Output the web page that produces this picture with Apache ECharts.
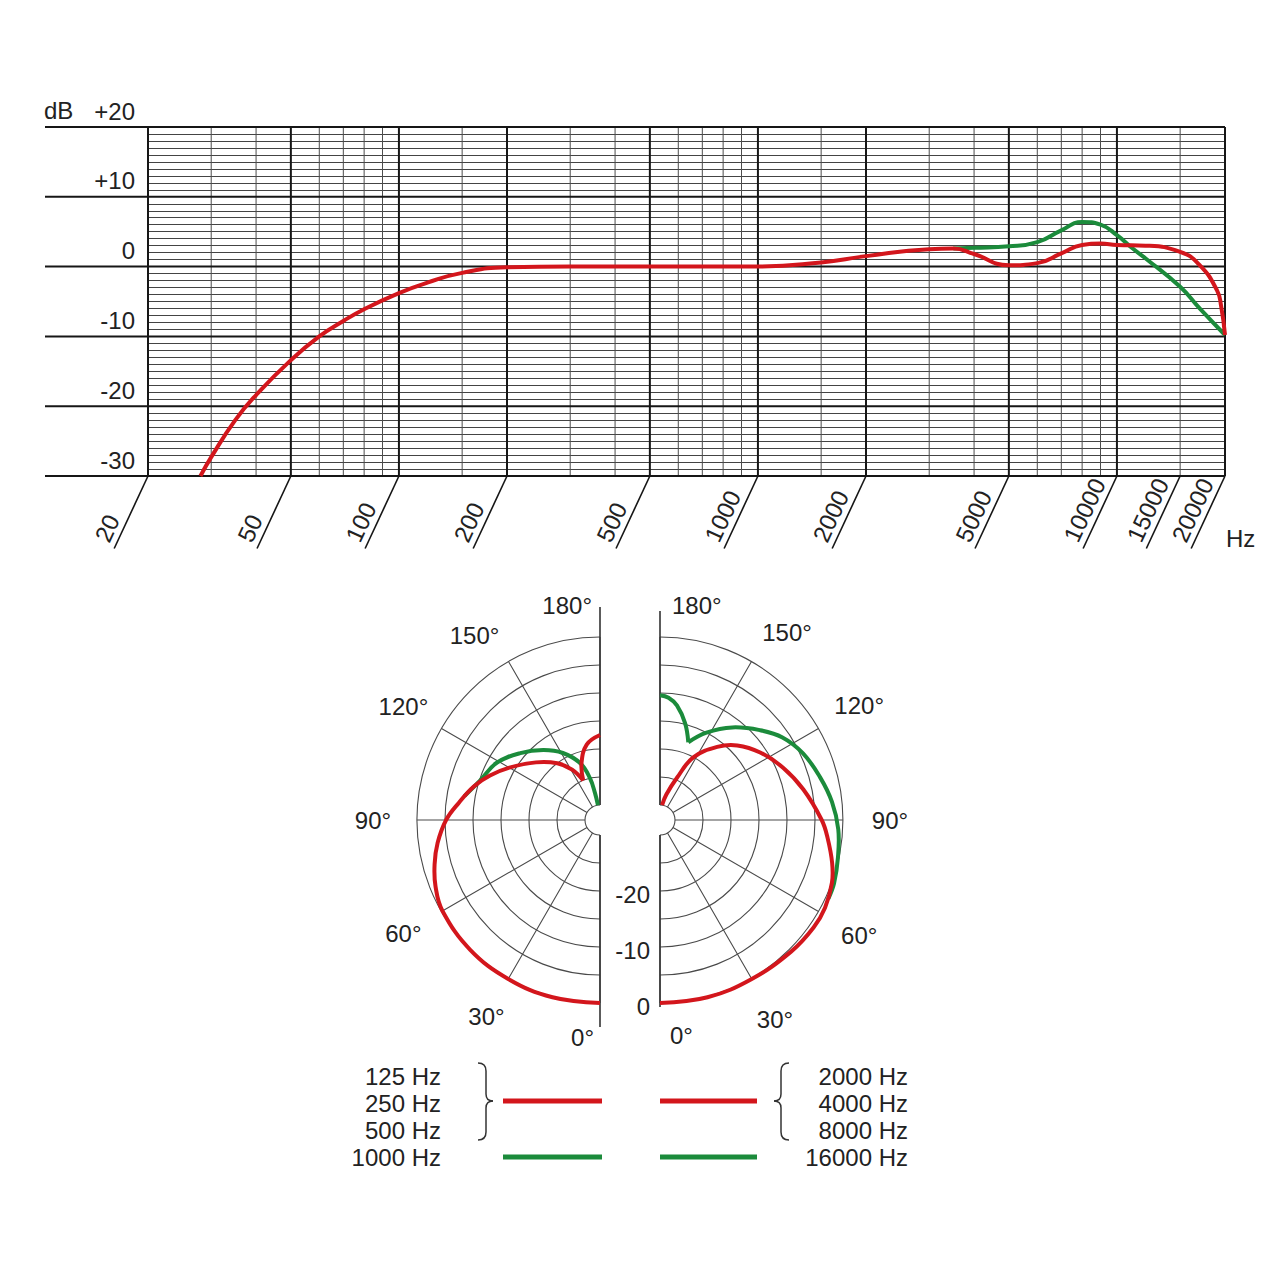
<!DOCTYPE html>
<html>
<head>
<meta charset="utf-8">
<title>Frequency response and polar pattern</title>
<script src="https://cdn.jsdelivr.net/npm/echarts/dist/echarts.min.js"></script>
<style>
  html, body { margin: 0; padding: 0; background: #ffffff; }
  #chart { width: 1280px; height: 1280px; }
</style>
</head>
<body>
<div id="chart"></div>
<script>
// ---------------- data ----------------
const freqTickHz = [20, 50, 100, 200, 500, 1000, 2000, 5000, 10000, 15000, 20000];
const freqTickLabels = ['20', '50', '100', '200', '500', '1000', '2000', '5000', '10000', '15000', '20000'];
const majorGridHz = [20, 50, 100, 200, 500, 1000, 2000, 5000, 10000, 20000];
const minorGridHz = [30, 40, 60, 70, 80, 90, 150, 300, 400, 600, 700, 800, 900, 1500, 3000, 4000, 6000, 7000, 8000, 9000, 15000];
const dbTicks = [-30, -20, -10, 0, 10, 20];
const dbTickLabels = ['-30', '-20', '-10', '0', '+10', '+20'];

const respRedHz = [28, 30, 35, 40, 50, 60, 70, 80, 100, 120, 150, 200, 300, 500, 1000, 1500, 2000, 3000, 3500, 4000, 5000, 6000, 7000, 8000, 9000, 10000, 12000, 15000, 17000, 19000, 19500, 20000];
const respRedDb = [-30, -27.3, -22, -18.4, -13.4, -10, -7.8, -6.1, -3.8, -2.3, -0.9, -0.1, 0, 0, 0, 0.6, 1.5, 2.5, 2.6, 1.8, 0.2, 0.5, 1.9, 3.1, 3.3, 3.1, 3.0, 2.1, 0.2, -3.4, -5.6, -9.8];
const respGreenHz = [3500, 4000, 5000, 6000, 7000, 8000, 9000, 10000, 11000, 12000, 15000, 17000, 20000];
const respGreenDb = [2.6, 2.7, 2.9, 3.5, 5.2, 6.4, 6.0, 4.5, 2.7, 1.2, -2.9, -6.0, -9.8];

const polarAngleTicks = [0, 30, 60, 90, 120, 150, 180];
const polarAngleLabels = ['0°', '30°', '60°', '90°', '120°', '150°', '180°'];
const polarDbLabelValues = [0, -10, -20];
const polarDbLabels = ['0', '-10', '-20'];

// left half: 125 / 250 / 500 Hz (red), 1000 Hz (green)
const lowRedMainDeg = [0, 15, 30, 45, 60, 68, 75, 82, 90, 97, 105, 112, 120, 132, 143, 151, 157];
const lowRedMainDb  = [0, 0.1, 0.1, 0.1, -0.2, -1.0, -2.1, -3.4, -5.2, -7.3, -9.4, -11.5, -14, -17.3, -20, -22.4, -25];
const lowRedLobeDeg = [157, 162, 170, 180];
const lowRedLobeDb  = [-25, -22, -19, -17.5];
const lowGreenDeg = [100, 108, 119, 130, 141, 151, 161, 166.5, 169.5, 172];
const lowGreenDb  = [-8.1, -10.1, -11.6, -14.1, -16.6, -19, -22, -25, -27.8, -30];

// right half: 2000 / 4000 / 8000 Hz (red), 16000 Hz (green)
const highRedDeg = [0, 15, 30, 45, 55, 62, 70, 76, 84, 90, 102, 113, 124, 134, 142, 152, 158, 166, 172];
const highRedDb  = [0, 0.1, 0.1, 0.5, 0.8, 0.7, 0, -1.0, -2.6, -3.8, -6.5, -8.8, -11.1, -13.5, -16.1, -20, -24.5, -28, -30];
const highGreenMainDeg = [65, 70, 78, 87, 96, 105, 115, 124, 132, 142, 152, 160];
const highGreenMainDb  = [0.5, 0.4, -0.2, -0.8, -1.8, -3.1, -4.5, -6.3, -8.7, -11.7, -15, -17.9];
const highGreenLobeDeg = [160, 165.5, 171.6, 176, 180];
const highGreenLobeDb  = [-17.9, -14.8, -12, -10.8, -10.4];

const legendLowLabels = ['125 Hz', '250 Hz', '500 Hz', '1000 Hz'];
const legendHighLabels = ['2000 Hz', '4000 Hz', '8000 Hz', '16000 Hz'];

// ---------------- constants / styles ----------------
const X_MIN = 20, X_MAX = 20000, Y_MIN = -30, Y_MAX = 20;
const R_MIN = -30, R_MAX = 0;
const RED = '#d3161c', GREEN = '#1b8b3b', INK = '#161616', GRID_MINOR = '#444444', POLAR_GRID = '#4a4a4a', TEXT = '#222222';
const FONT = '"Liberation Sans", Arial, Helvetica, sans-serif';
const FS = 24;
// extra placement of the 150° labels (outward px, downward px)
const ANGLE_LABEL_NUDGE = { 150: [12, 12] };

function pairs(xs, ys) { return xs.map((x, i) => [x, ys[i]]); }
function polarPairs(degs, dbs) { return degs.map((d, i) => [dbs[i], d]); }

function txt(text, x, y, align, vAlign, extra) {
  return Object.assign({
    type: 'text', x: x, y: y,
    style: { text: text, fill: TEXT, fontSize: FS, fontFamily: FONT,
             align: align, verticalAlign: vAlign, textAlign: align, textVerticalAlign: vAlign }
  }, extra || {});
}

function makeVLine(color, width) {
  return function (params, api) {
    const f = api.value(0);
    const a = api.coord([f, Y_MIN]);
    const b = api.coord([f, Y_MAX]);
    return { type: 'line', shape: { x1: a[0], y1: a[1], x2: b[0], y2: b[1] },
             style: { stroke: color, lineWidth: width } };
  };
}

const H_EXT_LEFT = 103, Y_LABEL_GAP = 13, Y_LABEL_RAISE = 16;
function renderHMajor(params, api) {
  const v = api.value(1);
  const a = api.coord([X_MIN, v]);
  const b = api.coord([X_MAX, v]);
  return { type: 'group', children: [
    { type: 'line', shape: { x1: a[0] - H_EXT_LEFT, y1: a[1], x2: b[0], y2: b[1] },
      style: { stroke: INK, lineWidth: 2 } },
    txt(dbTickLabels[params.dataIndex], a[0] - Y_LABEL_GAP, a[1] - Y_LABEL_RAISE, 'right', 'middle')
  ]};
}

const TICK_ANGLE = 65 * Math.PI / 180, TICK_LEN = 80, LABEL_ALONG = 78, LABEL_OFF = 3;
function renderXTick(params, api) {
  const f = api.value(0);
  const p = api.coord([f, Y_MIN]);
  const dx = -Math.cos(TICK_ANGLE), dy = Math.sin(TICK_ANGLE);
  const ux = -Math.sin(TICK_ANGLE), uy = -Math.cos(TICK_ANGLE);
  return { type: 'group', children: [
    { type: 'line', shape: { x1: p[0], y1: p[1], x2: p[0] + dx * TICK_LEN, y2: p[1] + dy * TICK_LEN },
      style: { stroke: INK, lineWidth: 1.6 } },
    txt(freqTickLabels[params.dataIndex],
        p[0] + dx * LABEL_ALONG + ux * LABEL_OFF, p[1] + dy * LABEL_ALONG + uy * LABEL_OFF,
        'left', 'bottom', { rotation: TICK_ANGLE })
  ]};
}

function makePolarDecor(side, gap, top, bottom) {
  return function (params, api) {
    const a = api.value(1);
    const inner = api.coord([R_MIN, a]);
    const outer = api.coord([R_MAX, a]);
    let dx = outer[0] - inner[0], dy = outer[1] - inner[1];
    const len = Math.hypot(dx, dy) || 1; dx /= len; dy /= len;
    const label = polarAngleLabels[params.dataIndex];
    const children = [];
    if (a === 0 || a === 180) {
      const cfg = a === 180 ? top : bottom;
      children.push({ type: 'line',
        shape: { x1: inner[0], y1: inner[1], x2: outer[0] + dx * cfg.ext, y2: outer[1] + dy * cfg.ext },
        style: { stroke: '#333333', lineWidth: 1.6 } });
      children.push(txt(label, outer[0] + side * cfg.gapX, outer[1] + dy * cfg.gapY,
                        side < 0 ? 'right' : 'left', 'middle'));
    } else {
      const n = ANGLE_LABEL_NUDGE[a] || [0, 0];
      children.push(txt(label, outer[0] + dx * gap + side * n[0], outer[1] + dy * gap + n[1], 'center', 'middle'));
    }
    return { type: 'group', children: children };
  };
}

function renderRadiusLabel(params, api) {
  const v = api.value(0);
  const p = api.coord([v, 0]);
  return txt(polarDbLabels[params.dataIndex], p[0] - 10, p[1] + 3, 'right', 'middle');
}

// a polar response curve: drawn once through all its points, via the polar scales
function renderPolarCurve(color) {
  return function (params, api) {
    if (params.dataIndexInside !== 0) return null;
    const pts = [];
    for (let i = 0; i < params.dataInsideLength; i++) {
      pts.push(api.coord([api.value(0, i), api.value(1, i)]));
    }
    return { type: 'polyline', shape: { points: pts, smooth: 0.4 },
             style: { stroke: color, lineWidth: 4, fill: null, lineJoin: 'round', lineCap: 'butt' } };
  };
}
function polarCurve(idx, degs, dbs, color, z) {
  return { type: 'custom', coordinateSystem: 'polar', polarIndex: idx, silent: true, z: z, clip: false,
           data: polarPairs(degs, dbs), renderItem: renderPolarCurve(color) };
}

function angleAxisCfg(idx, start, end, clockwise) {
  return { polarIndex: idx, type: 'value', min: 0, max: 180, interval: 30,
    startAngle: start, endAngle: end, clockwise: clockwise,
    axisLine: { show: false }, axisTick: { show: false }, axisLabel: { show: false },
    splitLine: { show: true, lineStyle: { color: POLAR_GRID, width: 1.1 } } };
}
function radiusAxisCfg(idx) {
  return { polarIndex: idx, type: 'value', min: R_MIN, max: R_MAX, interval: 5,
    axisLine: { show: false }, axisTick: { show: false }, axisLabel: { show: false },
    splitLine: { show: true, lineStyle: { color: POLAR_GRID, width: 1.1 } } };
}

// ---------------- legend graphics ----------------
function brace(cx, tipX, endX, y0, ymid, y1) {
  const st = { stroke: '#333333', lineWidth: 1.5, fill: null };
  return [
    { type: 'bezierCurve', shape: { x1: endX, y1: y0, cpx1: cx, cpy1: y0, x2: cx, y2: y0 + 8 }, style: st },
    { type: 'line', shape: { x1: cx, y1: y0 + 8, x2: cx, y2: ymid - 7 }, style: st },
    { type: 'bezierCurve', shape: { x1: cx, y1: ymid - 7, cpx1: cx, cpy1: ymid, x2: tipX, y2: ymid }, style: st },
    { type: 'bezierCurve', shape: { x1: tipX, y1: ymid, cpx1: cx, cpy1: ymid, x2: cx, y2: ymid + 7 }, style: st },
    { type: 'line', shape: { x1: cx, y1: ymid + 7, x2: cx, y2: y1 - 8 }, style: st },
    { type: 'bezierCurve', shape: { x1: cx, y1: y1 - 8, cpx1: cx, cpy1: y1, x2: endX, y2: y1 }, style: st }
  ];
}

const LEG_ROW0 = 1076, LEG_STEP = 27;
const graphics = [];
graphics.push(txt('dB', 44, 110, 'left', 'middle'));
graphics.push(txt('Hz', 1226, 538, 'left', 'middle'));
legendLowLabels.forEach((t, i) => graphics.push(txt(t, 441, LEG_ROW0 + i * LEG_STEP, 'right', 'middle')));
legendHighLabels.forEach((t, i) => graphics.push(txt(t, 908, LEG_ROW0 + i * LEG_STEP, 'right', 'middle')));
const redRowY = LEG_ROW0 + LEG_STEP - 2, greenRowY = LEG_ROW0 + 3 * LEG_STEP;
[[503, 602], [660, 757]].forEach(function (seg) {
  graphics.push({ type: 'line', shape: { x1: seg[0], y1: redRowY, x2: seg[1], y2: redRowY }, style: { stroke: RED, lineWidth: 5 } });
  graphics.push({ type: 'line', shape: { x1: seg[0], y1: greenRowY, x2: seg[1], y2: greenRowY }, style: { stroke: GREEN, lineWidth: 5 } });
});
brace(486, 493, 478, 1063, redRowY, 1140).forEach(g => graphics.push(g));
brace(781, 774, 789, 1063, redRowY, 1140).forEach(g => graphics.push(g));

// ---------------- chart ----------------
const chart = echarts.init(document.getElementById('chart'), null, { renderer: 'svg', width: 1280, height: 1280 });
const option = {
  animation: false,
  backgroundColor: '#ffffff',
  grid: { left: 148, right: 55, top: 127, bottom: 804, containLabel: false, outerBoundsMode: 'none' },
  xAxis: { type: 'log', logBase: 10, min: X_MIN, max: X_MAX,
    axisLine: { show: false }, axisTick: { show: false }, axisLabel: { show: false }, splitLine: { show: false } },
  yAxis: { type: 'value', min: Y_MIN, max: Y_MAX, interval: 10,
    axisLine: { show: false }, axisTick: { show: false }, axisLabel: { show: false }, splitLine: { show: false },
    minorTick: { show: false, splitNumber: 10 },
    minorSplitLine: { show: true, lineStyle: { color: GRID_MINOR, width: 1 } } },
  polar: [
    { center: [600, 820], radius: [15, 183] },
    { center: [660, 820], radius: [15, 183] }
  ],
  angleAxis: [angleAxisCfg(0, 270, 90, true), angleAxisCfg(1, -90, 90, false)],
  radiusAxis: [radiusAxisCfg(0), radiusAxisCfg(1)],
  series: [
    { type: 'custom', coordinateSystem: 'cartesian2d', silent: true, z: 1,
      data: minorGridHz.map(f => [f, Y_MIN]), renderItem: makeVLine('#4d4d4d', 1) },
    { type: 'custom', coordinateSystem: 'cartesian2d', silent: true, z: 2,
      data: majorGridHz.map(f => [f, Y_MIN]), renderItem: makeVLine(INK, 2) },
    { type: 'custom', coordinateSystem: 'cartesian2d', silent: true, z: 2,
      data: dbTicks.map(v => [X_MIN, v]), renderItem: renderHMajor },
    { type: 'custom', coordinateSystem: 'cartesian2d', silent: true, z: 2,
      data: freqTickHz.map(f => [f, Y_MIN]), renderItem: renderXTick },
    { type: 'line', data: pairs(respGreenHz, respGreenDb), smooth: true, showSymbol: false, symbol: 'none',
      lineStyle: { color: GREEN, width: 4 }, z: 5, silent: true },
    { type: 'line', data: pairs(respRedHz, respRedDb), smooth: true, showSymbol: false, symbol: 'none',
      lineStyle: { color: RED, width: 4 }, z: 6, silent: true },

    { type: 'custom', coordinateSystem: 'polar', polarIndex: 0, silent: true, z: 3,
      data: polarAngleTicks.map(a => [R_MAX, a]),
      renderItem: makePolarDecor(-1, 44, { ext: 30, gapX: 8, gapY: 32 }, { ext: 24, gapX: 6, gapY: 34 }) },
    { type: 'custom', coordinateSystem: 'polar', polarIndex: 1, silent: true, z: 3,
      data: polarAngleTicks.map(a => [R_MAX, a]),
      renderItem: makePolarDecor(1, 47, { ext: 26, gapX: 12, gapY: 32 }, { ext: 4, gapX: 10, gapY: 32 }) },
    { type: 'custom', coordinateSystem: 'polar', polarIndex: 1, silent: true, z: 3,
      data: polarDbLabelValues.map(v => [v, 0]), renderItem: renderRadiusLabel },

    polarCurve(0, lowGreenDeg, lowGreenDb, GREEN, 5),
    polarCurve(0, lowRedMainDeg, lowRedMainDb, RED, 6),
    polarCurve(0, lowRedLobeDeg, lowRedLobeDb, RED, 6),
    polarCurve(1, highGreenMainDeg, highGreenMainDb, GREEN, 5),
    polarCurve(1, highGreenLobeDeg, highGreenLobeDb, GREEN, 5),
    polarCurve(1, highRedDeg, highRedDb, RED, 6)
  ],
  graphic: graphics
};
chart.setOption(option);
</script>
</body>
</html>
